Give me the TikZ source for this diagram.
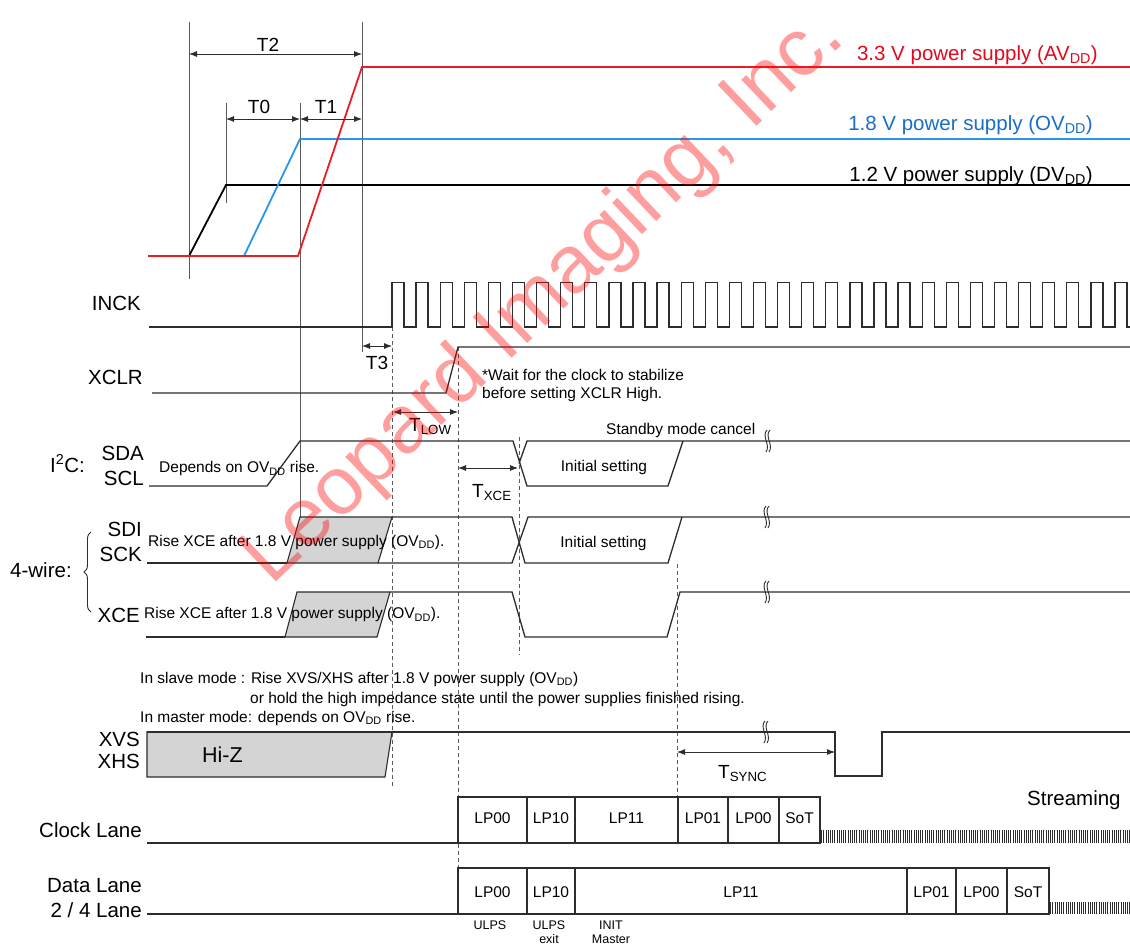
\documentclass[tikz,border=0pt]{standalone}
\usepackage{fontspec}
\setmainfont{Liberation Sans}
\usetikzlibrary{arrows.meta,decorations.pathreplacing}
\definecolor{avred}{RGB}{236,28,36}
\definecolor{avtext}{RGB}{225,10,30}
\definecolor{ovblue}{RGB}{40,150,235}
\definecolor{ovtext}{RGB}{25,110,200}
\definecolor{sig}{RGB}{45,45,45}
\definecolor{guide}{RGB}{90,90,90}
\definecolor{boxgray}{RGB}{212,212,212}
\tikzset{
  sigline/.style={draw=sig, line width=1.3pt},
  pwr/.style={line width=1.8pt},
  guideline/.style={draw=guide, line width=0.8pt},
  dashguide/.style={draw=guide, line width=0.8pt, dash pattern=on 4pt off 3pt},
  dimarrow/.style={draw=sig, line width=0.8pt, {Latex[length=8pt,width=6pt]}-{Latex[length=8pt,width=6pt]}},
  lbl/.style={font=\fontsize{20.5}{24}\selectfont, inner sep=0pt, anchor=base east},
  pwrlbl/.style={font=\fontsize{20.5}{24}\selectfont, inner sep=0pt, anchor=base east},
  note/.style={font=\fontsize{15.5}{18}\selectfont, inner sep=0pt, anchor=base west},
  tlbl/.style={font=\fontsize{19}{22}\selectfont, inner sep=0pt, anchor=base},
  tsub/.style={font=\fontsize{19}{22}\selectfont, inner sep=0pt, anchor=base west},
  lptext/.style={font=\fontsize{15.5}{18}\selectfont, inner sep=0pt, anchor=base},
  undertext/.style={font=\fontsize{12.5}{15}\selectfont, inner sep=0pt, anchor=base},
  lpbox/.style={draw=sig, line width=1.1pt},
  hatch/.style={draw=sig, line width=0.7pt},
  brk/.pic={
    \draw[sig, line width=0.9pt] (0,-11) .. controls (-6,-5) and (4,4) .. (-1,11);
    \draw[sig, line width=0.9pt] (3,-11) .. controls (-3,-5) and (7,4) .. (2,11);
  },
}
\begin{document}
\begin{tikzpicture}[x=1pt,y=-1pt]
\clip (0,0) rectangle (1130,945);
\fill[white] (0,0) rectangle (1130,945);

% ---------- guide lines ----------
\draw[guideline] (189,22) -- (189,279);
\draw[guideline] (226,103) -- (226,203);
\draw[guideline] (300,103) -- (300,517);
\draw[guideline] (362,22) -- (362,352);

% ---------- dashed lines ----------
\draw[dashguide] (392,327) -- (392,788);
\draw[dashguide] (458,347) -- (458,868);
\draw[dashguide] (519,437) -- (519,655);
\draw[dashguide] (677,564) -- (677,797);

% ---------- power supplies ----------
\draw[pwr, black] (189,256) -- (226,185) -- (1130,185);
\draw[pwr, ovblue] (244,256) -- (300,139) -- (1130,139);
\draw[pwr, avred] (148,256) -- (298,256) -- (362,67) -- (1130,67);
\node[pwrlbl, text=avtext] (lav) at (1098,60.5) {3.3 V power supply (AV\textsubscript{DD})};
\node[pwrlbl, text=ovtext] (lov) at (1093,130) {1.8 V power supply (OV\textsubscript{DD})};
\node[pwrlbl, text=black] (ldv) at (1093,181.5) {1.2 V power supply (DV\textsubscript{DD})};

% ---------- T0 T1 T2 ----------
\coordinate (t2a) at (189,54); \coordinate (t2b) at (362,54);
\draw[dimarrow] (t2a) -- (t2b);
\node[tlbl] (t2) at (268,51.5) {T2};
\coordinate (t0a) at (226,119); \coordinate (t0b) at (300,119); \coordinate (t1b) at (362,119);
\draw[dimarrow] (t0a) -- (t0b);
\draw[dimarrow] (t0b) -- (t1b);
\node[tlbl] (t0) at (259,113) {T0};
\node[tlbl] (t1) at (326,113) {T1};

% ---------- INCK ----------
\node[lbl] (linck) at (141,310.5) {INCK};
\draw[sigline] (149,327) -- (392,327)
  foreach \i in {1,...,31} { -- ++(0,-44.5) -- ++(12,0) -- ++(0,44.5) -- ++(12.1,0) };
\coordinate (t3a) at (362,346); \coordinate (t3b) at (392,346);
\draw[dimarrow] (t3a) -- (t3b);
\node[tlbl] (t3) at (377,369) {T3};

% ---------- XCLR ----------
\node[lbl] (lxclr) at (143,384) {XCLR};
\draw[sigline] (152,393) -- (446,393) -- (458,347) -- (1130,347);
\node[note] (wait1) at (482,380) {*Wait for the clock to stabilize};
\node[note] (wait2) at (482,398.5) {before setting XCLR High.};
\coordinate (tla) at (393,412); \coordinate (tlb) at (458,412);
\draw[dimarrow] (tla) -- (tlb);
\node[tsub] (tlow) at (409,431) {T\textsubscript{LOW}};

% ---------- I2C ----------
\node[lbl, anchor=base west] (li2c) at (50,472) {I\textsuperscript{2}C:};
\node[lbl] (lsda) at (144,460) {SDA};
\node[lbl] (lscl) at (144,485) {SCL};
\draw[sigline] (149,486) -- (267,486) -- (300,441) -- (513,441) -- (527,486) -- (668,486) -- (683,441);
\draw[sigline] (519,463.5) -- (527,441) -- (1130,441);
\node[note] (dep) at (159,472.5) {Depends on OV\textsubscript{DD} rise.};
\node[note] (stby) at (606,434) {Standby mode cancel};
\node[note, anchor=base] (init1) at (604,471.5) {Initial setting};
\coordinate (txa) at (458,468); \coordinate (txb) at (518,468);
\draw[dimarrow] (txa) -- (txb);
\node[tsub] (txce) at (472,497) {T\textsubscript{XCE}};
\pic at (767,441) {brk};

% ---------- 4-wire ----------
\node[lbl, anchor=base west] (l4w) at (10,577) {4-wire:};
\draw[sig, line width=0.9pt, decorate, decoration={brace, amplitude=7pt}] (91,612) -- (91,532);
\node[lbl] (lsdi) at (142,536.5) {SDI};
\node[lbl] (lsck) at (142,561.5) {SCK};
\node[lbl] (lxce) at (140,622.5) {XCE};

\filldraw[fill=boxgray, draw=sig, line width=1.1pt] (287,563) -- (300,517) -- (392,517) -- (378,563) -- cycle;
\draw[sigline] (147,563) -- (287,563);
\draw[sigline] (392,517) -- (512,517) -- (525,563) -- (668,563) -- (682,517);
\draw[sigline] (378,563) -- (512,563) -- (528,517) -- (1130,517);
\node[note] (rise1) at (148,546) {Rise XCE after 1.8 V power supply (OV\textsubscript{DD}).};
\node[note, anchor=base] (init2) at (603.5,547) {Initial setting};
\pic at (766,517) {brk};

\filldraw[fill=boxgray, draw=sig, line width=1.1pt] (285,637) -- (297,592) -- (390,592) -- (377,637) -- cycle;
\draw[sigline] (146,637) -- (285,637);
\draw[sigline] (390,592) -- (512,592) -- (525,637) -- (667,637) -- (680,592) -- (1130,592);
\node[note] (rise2) at (144,618.5) {Rise XCE after 1.8 V power supply (OV\textsubscript{DD}).};
\pic at (766,592) {brk};

% ---------- XVS / XHS ----------
\node[note] (slave1) at (140,683) {In slave mode : Rise XVS/XHS after 1.8 V power supply (OV\textsubscript{DD})};
\node[note] (slave2) at (250,703) {or hold the high impedance state until the power supplies finished rising.};
\node[note] (master) at (140,722) {In master mode: depends on OV\textsubscript{DD} rise.};
\filldraw[fill=boxgray, draw=sig, line width=1.1pt] (147,732) -- (392,732) -- (385,777) -- (147,777) -- cycle;
\draw[sigline] (147,732) -- (835,732) -- (835,776) -- (882,776) -- (882,732) -- (1130,732);
\node[lbl] (lxvs) at (140,746) {XVS};
\node[lbl] (lxhs) at (140,768) {XHS};
\node[lbl, anchor=base west, font=\fontsize{21.5}{24}\selectfont] (hiz) at (202,762) {Hi-Z};
\coordinate (tsa) at (677,752); \coordinate (tsb) at (835,752);
\draw[dimarrow] (tsa) -- (tsb);
\node[tsub] (tsync) at (718,778) {T\textsubscript{SYNC}};
\pic at (765,732) {brk};

% ---------- Clock lane ----------
\node[lbl] (lclk) at (142,837) {Clock Lane};
\node[lbl, anchor=base west] (stream) at (1027,805) {Streaming};
\draw[sigline] (147,843) -- (458,843);
\draw[lpbox] (458,797) rectangle (527,843);
\draw[lpbox] (527,797) rectangle (575,843);
\draw[lpbox] (575,797) rectangle (678,843);
\draw[lpbox] (678,797) rectangle (728,843);
\draw[lpbox] (728,797) rectangle (779,843);
\draw[lpbox] (779,797) rectangle (820,843);
\node[lptext] (c1) at (492.5,823) {LP00};
\node[lptext] (c2) at (551,823) {LP10};
\node[lptext] (c3) at (626.5,823) {LP11};
\node[lptext] (c4) at (703,823) {LP01};
\node[lptext] (c5) at (753.5,823) {LP00};
\node[lptext] (c6) at (799.5,823) {SoT};
\foreach \x in {821.5,823.7,...,1130} \draw[hatch] (\x,830) -- (\x,843);

% ---------- Data lane ----------
\node[lbl] (ldata1) at (142,892) {Data Lane};
\node[lbl] (ldata2) at (142,917) {2 / 4 Lane};
\draw[sigline] (147,914) -- (458,914);
\draw[lpbox] (458,868) rectangle (527,914);
\draw[lpbox] (527,868) rectangle (575,914);
\draw[lpbox] (575,868) rectangle (907,914);
\draw[lpbox] (907,868) rectangle (956,914);
\draw[lpbox] (956,868) rectangle (1007,914);
\draw[lpbox] (1007,868) rectangle (1049,914);
\node[lptext] (d1) at (492.5,897) {LP00};
\node[lptext] (d2) at (551,897) {LP10};
\node[lptext] (d3) at (741,897) {LP11};
\node[lptext] (d4) at (931.5,897) {LP01};
\node[lptext] (d5) at (981.5,897) {LP00};
\node[lptext] (d6) at (1028,897) {SoT};
\foreach \x in {1050.5,1052.7,...,1130} \draw[hatch] (\x,902) -- (\x,914);
\node[undertext] (u1) at (490,929) {ULPS};
\node[undertext] (u2) at (549,929) {ULPS};
\node[undertext] (u3) at (549,943) {exit};
\node[undertext] (u4) at (611,929) {INIT};
\node[undertext] (u5) at (611,943) {Master};

% ---------- watermark ----------
\node[rotate=43.5, text=red, opacity=0.38, inner sep=0pt, font=\fontsize{82}{90}\selectfont] (wm) at (545,298) {Leopard Imaging, Inc.};
\end{tikzpicture}
\end{document}
